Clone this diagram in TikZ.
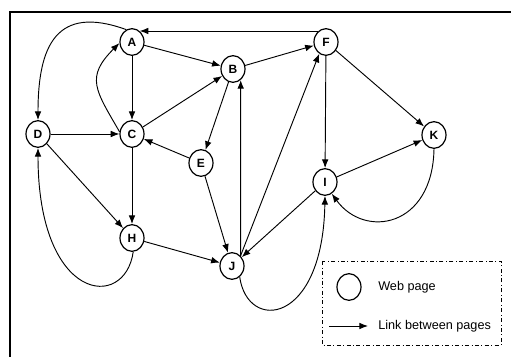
\documentclass[tikz,border=0pt]{standalone}
\usepackage{fontspec}
\setmainfont{Liberation Sans}
\usetikzlibrary{arrows.meta,shapes.geometric}

\begin{document}
\begin{tikzpicture}[x=0.75pt,y=0.75pt]
\tikzstyle{page}=[ellipse, draw=black, line width=0.9pt, inner sep=0pt, minimum width=18pt, minimum height=20pt, font=\fontsize{9}{10}\selectfont\bfseries]
\tikzstyle{connect}=[-{Latex[length=6.5pt,width=5pt]}, line width=0.7pt]
\tikzstyle{legend}=[anchor=west, inner sep=0pt, font=\fontsize{9.5}{11}\selectfont]
\useasboundingbox (0,0) rectangle (511,357);
% frame, only top and left edges
\draw[line width=1.5pt] (10,0) -- (10,345) -- (511,345);
  \node[page] (A) at (132,315) {A};
  \node[page] (B) at (233,288) {B};
  \node[page] (C) at (132,223) {C};
  \node[page] (D) at (38,223) {D};
  \node[page] (E) at (201,194) {E};
  \node[page] (F) at (326,315) {F};
  \node[page] (K) at (434,222) {K};
  \node[page] (I) at (325,175) {I};
  \node[page] (H) at (132,119) {H};
  \node[page] (J) at (232,91) {J};
\path[connect] (A) edge (B)
           (A) edge (C)
           (D) edge (C)
           (C) edge (B)
           (B) edge (E)
           (E) edge (C)
           (B) edge (F)
           (D) edge (H)
           (C) edge (H)
           (H) edge (J)
           (E) edge (J)
           (J.50) edge (B.-55)
           (J.50) edge (F.240)
           (I) edge (J)
           (F) edge (I)
           (F) edge (K)
           (I) edge (K)
           (F.125) edge (A.55)
           ;
% curved links
\draw[connect] (A.115) to[out=160, in=90, looseness=1.5] (D.north);
\draw[connect] (C.170) to[out=120, in=225, looseness=1.4] (A.185);
\draw[connect] (H.-85) to[out=-98, in=-90, out distance=45pt, in distance=116pt] (D.south);
\draw[connect] (J.-55) to[out=-82, in=-91, out distance=42pt, in distance=97pt] (I.south);
\draw[connect] (K.south) to[out=-91, in=-54, out distance=59pt, in distance=42pt] (I.-60);
% legend
\draw[dash dot, line width=0.5pt] (322,96) rectangle (501,12);
\node[page] (web) at (349,70) {};
\node[legend] (webtxt) at (378,70) {Web page};
\coordinate (ltail) at (329,31);
\coordinate (lhead) at (368,31);
\draw[connect] (ltail) -- (lhead);
\node[legend] (linktxt) at (378,31) {Link between pages};
\end{tikzpicture}
\end{document}
